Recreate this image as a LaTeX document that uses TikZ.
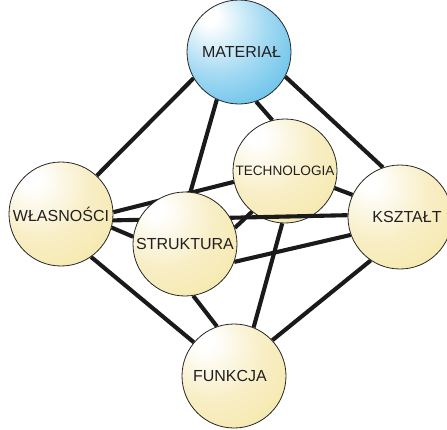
\documentclass[tikz,border=0pt]{standalone}
\usepackage{fontspec}
\setmainfont{Liberation Sans}
\definecolor{yedge}{HTML}{F4E59A}
\definecolor{ymid}{HTML}{F8EEC6}
\definecolor{bedge}{HTML}{3AAFE3}
\definecolor{bmid}{HTML}{A2D9F2}
\definecolor{txt}{HTML}{231F20}
\definecolor{ln}{HTML}{1A1A1A}
\pgfdeclareradialshading{yshade}{\pgfpoint{-15bp}{18bp}}{color(0bp)=(white); color(4bp)=(white); color(24bp)=(ymid); color(52bp)=(yedge); color(80bp)=(yedge)}
\pgfdeclareradialshading{bshade}{\pgfpoint{-15bp}{18bp}}{color(0bp)=(white); color(4bp)=(white); color(24bp)=(bmid); color(52bp)=(bedge); color(80bp)=(bedge)}
\pgfdeclarelayer{l1}
\pgfdeclarelayer{l2}
\pgfdeclarelayer{l3}
\pgfsetlayers{l1,l2,l3,main}
\tikzset{
  ball/.style={circle, draw=black!85, line width=0.8pt, minimum size=104pt, inner sep=0pt,
    font=\fontsize{16}{16}\selectfont, text=txt},
  yball/.style={ball, shading=yshade},
  bball/.style={ball, shading=bshade},
  link/.style={line width=4.1pt, draw=ln}
}
\begin{document}
\begin{tikzpicture}[x=1pt,y=-1pt]
\useasboundingbox (0,0) rectangle (447,429);
\node[bball] (mat) at (239,52) {\hspace*{5pt}MATERIAŁ};
\node[yball] (wla) at (61,214) {WŁASNOŚCI};
\node[yball] (str) at (185,244) {STRUKTURA};
\node[yball] (ksz) at (400,217) {\hspace*{14pt}KSZTAŁT};
\node[yball] (fun) at (234,376) {\raisebox{-3pt}{FUNKCJA}\hspace*{8pt}};
\begin{pgfonlayer}{l2}
\node[yball, font=\fontsize{13.6}{14}\selectfont] (tec) at (285,171) {TECHNOLOGIA};
\end{pgfonlayer}
\begin{pgfonlayer}{l1}
\draw[link] (mat.210) -- (wla.47);
\draw[link] (mat.245) -- (str.84);
\draw[link] (mat.289) -- (tec.104);
\draw[link] (mat.332) -- (ksz.109);
\draw[link] (wla.2) -- (tec.192);
\draw[link] (wla.345) -- (str.172);
\draw[link] (wla.305) -- (fun.140);
\draw[link] (str.18) -- (tec.231);
\draw[link] (str.340) -- (ksz.200);
\draw[link] (tec.341) -- (ksz.155);
\draw[link] (tec.267) -- (fun.68);
\draw[link] (str.279) -- (fun.109);
\draw[link] (ksz.236) -- (fun.43);
\end{pgfonlayer}
\begin{pgfonlayer}{l3}
\draw[link] (wla.353) -- (ksz.178);
\end{pgfonlayer}
\end{tikzpicture}
\end{document}
